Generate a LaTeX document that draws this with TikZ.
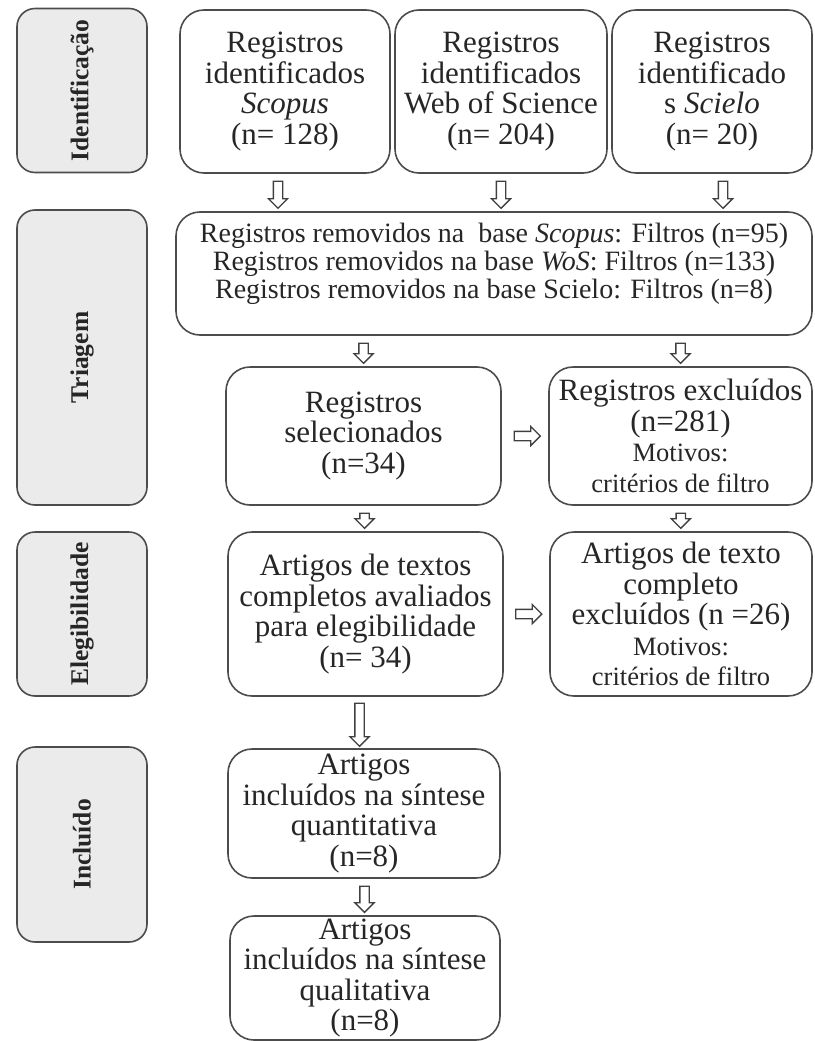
\documentclass[tikz,border=0pt]{standalone}
\usepackage{fontspec}
\setmainfont{Liberation Serif}
\usetikzlibrary{shapes.arrows}

\newcommand{\motivo}[1]{{\fontsize{26.5}{29}\selectfont #1}}

\begin{document}
\begin{tikzpicture}[
  x=1pt, y=-1pt,
  side/.style={draw=black!70, fill=black!8, line width=1.6pt, rounded corners=18pt, rotate=90, minimum height=130pt, font=\fontsize{25.5}{26}\selectfont\bfseries, text=black!85},
  box/.style={draw=black!70, line width=1.6pt, rounded corners=24pt, align=center, inner sep=2pt, font=\fontsize{31}{30.5}\selectfont, text=black!85},
  darrow/.style={single arrow, draw=black!75, fill=white, line width=1.3pt, inner sep=4pt, single arrow head extend=5pt, minimum height=#1, shape border rotate=270},
  rarrow/.style={darrow=#1, shape border rotate=0}
]
\useasboundingbox (0,0) rectangle (814,1041);

\node[side, minimum width=164pt] (ident) at (82,90.5) {Identificação};
\node[side, minimum width=295pt] (triag) at (82,357.5) {Triagem};
\node[side, minimum width=164pt] (eleg) at (82,614) {Elegibilidade};
\node[side, minimum width=195pt] (incl) at (82,844.5) {Incluído};

\node[box, minimum width=210pt, minimum height=163pt] (scopus) at (285,91.5) {Registros\\identificados\\\textit{Scopus}\\(n= 128)};
\node[box, minimum width=212pt, minimum height=163pt] (wos) at (501,91.5) {Registros\\identificados\\Web of Science\\(n= 204)};
\node[box, minimum width=200pt, minimum height=163pt] (scielo) at (712,91.5) {Registros\\identificado\\s \textit{Scielo}\\(n= 20)};

\node[box, minimum width=636pt, minimum height=123pt, text depth=26pt, font=\fontsize{28}{28}\selectfont] (removed) at (494,273.5) {Registros removidos na~ base \textit{Scopus}: Filtros (n=95)\\Registros removidos na base \textit{WoS}: Filtros (n=133)\\Registros removidos na base Scielo: Filtros (n=8)};

\node[box, minimum width=275pt, minimum height=138pt] (selec) at (363.5,436) {Registros\\selecionados\\(n=34)};
\node[box, minimum width=263pt, minimum height=138pt] (excl) at (680.5,436) {Registros excluídos\\(n=281)\\\motivo{Motivos:}\\\motivo{critérios de filtro}};

\node[box, minimum width=275pt, minimum height=164pt] (artigos) at (365.5,614) {Artigos de textos\\completos avaliados\\para elegibilidade\\(n= 34)};
\node[box, minimum width=262pt, minimum height=164pt] (excltexto) at (681,614) {Artigos de texto\\completo\\excluídos (n =26)\\\motivo{Motivos:}\\\motivo{critérios de filtro}};

\node[box, minimum width=272pt, minimum height=129pt] (quanti) at (364,813.5) {Artigos\\incluídos na síntese\\quantitativa\\(n=8)};
\node[box, minimum width=270pt, minimum height=124pt] (quali) at (365,978) {Artigos\\incluídos na síntese\\qualitativa\\(n=8)};

\path ([xshift=-7pt]scopus.south) -- node[darrow=27pt] {} ([xshift=-7pt]scopus.south |- removed.north);
\path (wos.south) -- node[darrow=27pt] {} (wos.south |- removed.north);
\path ([xshift=11pt]scielo.south) -- node[darrow=27pt] {} ([xshift=11pt]scielo.south |- removed.north);
\path (removed.south -| selec.north) -- node[darrow=20pt] {} (selec.north);
\path (removed.south -| excl.north) -- node[darrow=20pt] {} (excl.north);
\path (selec.east) -- node[rarrow=26pt] {} (excl.west);
\path (selec.south) -- node[darrow=15pt] {} (artigos.north);
\path (excl.south) -- node[darrow=15pt] {} (excltexto.north);
\path (artigos.east) -- node[rarrow=26pt] {} (excltexto.west);
\path ([xshift=-6pt]artigos.south) -- node[darrow=43pt] {} ([xshift=-6pt]artigos.south |- quanti.north);
\path (quanti.south) -- node[darrow=26pt] {} (quali.north);
\end{tikzpicture}
\end{document}
